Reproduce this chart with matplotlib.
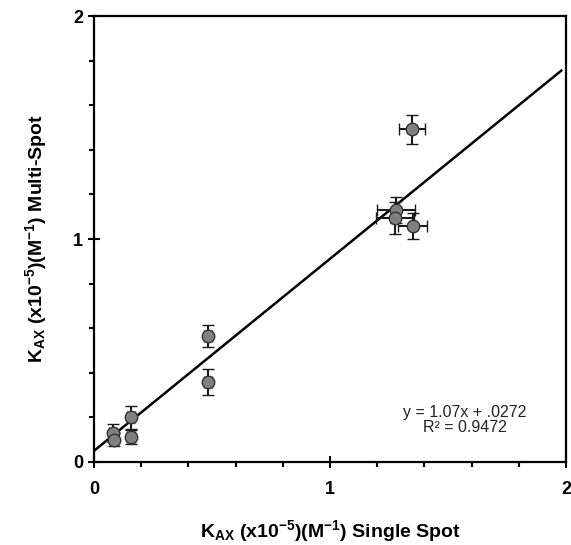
import matplotlib.pyplot as plt
from matplotlib.ticker import MultipleLocator

# single spot vs multi spot association constants (x10^-5 M^-1)
single_spot = [0.08, 0.085, 0.157, 0.157, 0.483, 0.483, 1.28, 1.275, 1.35, 1.347]
multi_spot = [0.13, 0.10, 0.20, 0.112, 0.565, 0.359, 1.13, 1.094, 1.058, 1.493]
single_err = [0.015, 0.015, 0.015, 0.015, 0.015, 0.015, 0.08, 0.08, 0.06, 0.055]
multi_err = [0.04, 0.03, 0.05, 0.03, 0.05, 0.06, 0.06, 0.07, 0.06, 0.065]

# drawn trend line end points
fit_x = [0.0, 1.98]
fit_y = [0.05, 1.755]

fit_text = "y = 1.07x + .0272\nR\u00b2 = 0.9472"

plt.rcParams['font.family'] = ['Liberation Sans', 'DejaVu Sans']
plt.rcParams['mathtext.fontset'] = 'custom'
plt.rcParams['mathtext.rm'] = 'Liberation Sans:bold'
plt.rcParams['mathtext.it'] = 'Liberation Sans:bold'
plt.rcParams['mathtext.bf'] = 'Liberation Sans:bold'
plt.rcParams['mathtext.default'] = 'rm'

fig = plt.figure(figsize=(5.71, 5.45), dpi=100)
ax = fig.add_axes([0.1646, 0.1523, 0.8266, 0.8183])

ax.plot(fit_x, fit_y, color='black', lw=1.8, zorder=2)
ax.errorbar(single_spot, multi_spot, xerr=single_err, yerr=multi_err, fmt='o',
            ms=9, mfc='#808080', mec='#333333', mew=1.0,
            ecolor='#1a1a1a', elinewidth=1.5, capsize=4.5, capthick=1.6, zorder=3)

ax.set_xlim(0, 2)
ax.set_ylim(0, 2)
ax.set_xticks([0, 1, 2])
ax.set_xticklabels(['0', '1', '2'], fontweight='bold')
ax.set_yticks([0, 1, 2])
ax.set_yticklabels(['0', '1', '2'], fontweight='bold')
ax.xaxis.set_minor_locator(MultipleLocator(0.2))
ax.yaxis.set_minor_locator(MultipleLocator(0.2))
ax.tick_params(which='major', direction='inout', length=8, width=1.5,
               labelsize=13)
ax.tick_params(axis='x', which='major', pad=10)
ax.tick_params(axis='y', which='major', pad=4)
ax.tick_params(which='minor', direction='out', length=3.5, width=1.5)
for sp in ax.spines.values():
    sp.set_linewidth(1.6)

ax.set_xlabel(r"$\mathrm{K_{AX}}$ (x10$^{-5}$)(M$^{-1}$) Single Spot",
              fontsize=14, fontweight='bold', labelpad=14)
ax.set_ylabel(r"$\mathrm{K_{AX}}$ (x10$^{-5}$)(M$^{-1}$) Multi-Spot",
              fontsize=14, fontweight='bold', labelpad=17)

ax.text(1.572, 0.188, fit_text, ha='center', va='center', fontsize=11.5,
        color='#222222', linespacing=1.0)

fig.savefig('out.png', dpi=100)
